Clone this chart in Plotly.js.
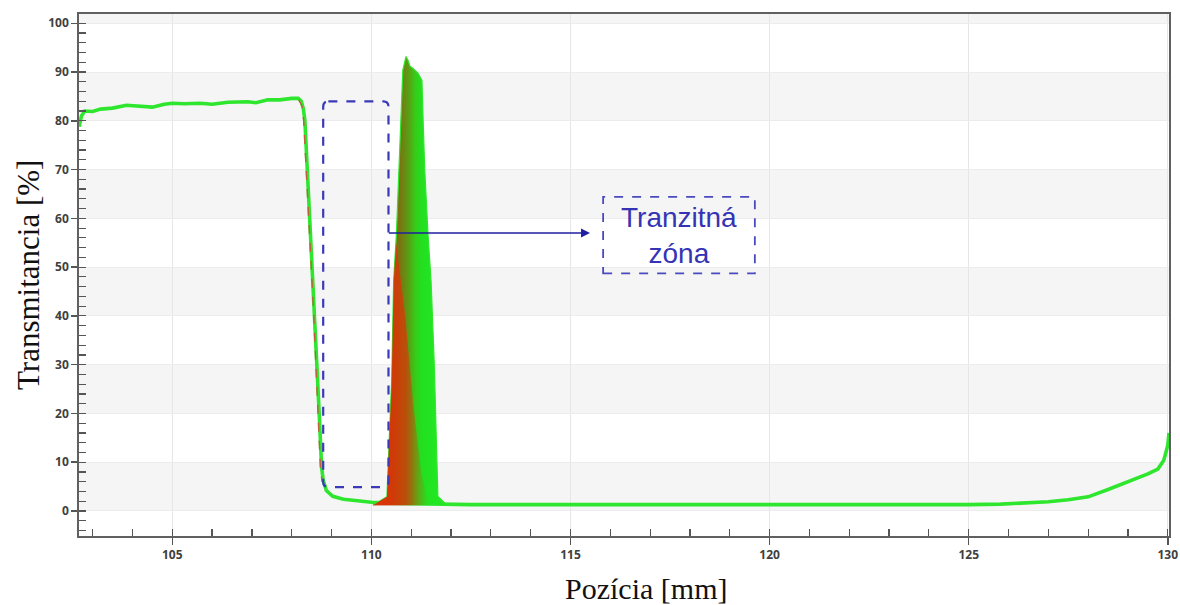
<!DOCTYPE html>
<html>
<head>
<meta charset="utf-8">
<script src="https://cdn.plot.ly/plotly-3.0.1.min.js"></script>
<style>html,body{margin:0;padding:0;background:#fff;}#chart{width:1180px;height:605px;}</style>
</head>
<body>
<div id="chart"></div>
<script>
// Main transmittance curve (position mm, transmittance %)
const mainX = [102.66, 102.72, 102.8, 103.0, 103.2, 103.5, 103.85, 104.2, 104.5, 104.8, 105.0, 105.3, 105.7, 106.0, 106.4, 106.9, 107.1, 107.4, 107.7, 108.0, 108.16, 108.24, 108.29, 108.33, 108.45, 108.58, 108.69, 108.75, 108.79, 108.87, 109.03, 109.3, 109.6, 110.0, 110.5, 111.0, 111.5, 112.0, 112.5, 113, 114, 115, 116, 117, 118, 119, 120, 121, 122, 123, 124, 125, 125.8, 126.6, 127.0, 127.5, 128.0, 128.5, 129.0, 129.5, 129.75, 129.9, 130.0, 130.03];
const mainY = [78.8, 81.0, 82.0, 81.9, 82.4, 82.6, 83.2, 83.0, 82.8, 83.4, 83.6, 83.5, 83.6, 83.4, 83.8, 83.9, 83.7, 84.3, 84.3, 84.6, 84.6, 84.0, 82.5, 80.1, 61.0, 40.6, 20.0, 9.0, 6.3, 4.2, 3.0, 2.4, 2.1, 1.8, 1.6, 1.5, 1.5, 1.4, 1.3, 1.3, 1.3, 1.3, 1.3, 1.3, 1.3, 1.2, 1.2, 1.2, 1.2, 1.2, 1.3, 1.3, 1.4, 1.7, 1.9, 2.3, 2.9, 4.4, 6.0, 7.6, 8.6, 10.4, 13.5, 16.0];

// Red dashed measurement at the falling edge
const dropX = [108.18, 108.26, 108.3, 108.42, 108.55, 108.66, 108.72, 108.76];
const dropY = [84.3, 83.0, 80.0, 61.0, 40.6, 20.0, 9.0, 6.0];

// Envelope of the transition-zone peak (all overlaid measurements)
const peakX = [110.04, 110.39, 110.51, 110.56, 110.63, 110.76, 110.79, 110.87, 110.92, 110.97, 111.04, 111.17, 111.27, 111.30, 111.34, 111.42, 111.50, 111.58, 111.63, 111.67, 111.90];
const peakY = [1.2, 2.9, 26.8, 47.3, 57.0, 87.7, 90.4, 93.2, 92.4, 91.2, 90.8, 89.8, 88.3, 80.0, 70.0, 57.0, 47.0, 30.0, 15.0, 3.0, 1.2];

// Reddish lower region of the peak (early measurements)
const redX = [110.04, 110.39, 110.51, 110.56, 110.62, 110.85, 111.05, 111.25, 111.45];
const redY = [1.2, 2.9, 26.8, 47.3, 55.0, 40.0, 22.0, 8.0, 1.2];

const xTickVals = [105, 110, 115, 120, 125, 130];
const yTickVals = [0, 10, 20, 30, 40, 50, 60, 70, 80, 90, 100];

const labelText = 'Tranzitná<br>zóna';
const xTitle = 'Pozícia [mm]';
const yTitle = 'Transmitancia [%]';

const traces = [
  {x: mainX, y: mainY, type: 'scatter', mode: 'lines', line: {color: '#2ee62e', width: 3.6}, hoverinfo: 'skip'},
  {x: dropX, y: dropY, type: 'scatter', mode: 'lines', line: {color: '#c0603a', width: 1.4, dash: 'dash'}, hoverinfo: 'skip'},
  {x: peakX, y: peakY, type: 'scatter', mode: 'lines', fill: 'toself', line: {color: '#2ee62e', width: 1.2},
   fillgradient: {type: 'horizontal', start: 110.5, stop: 111.6,
     colorscale: [[0, '#8a6010'], [0.2, '#7a7410'], [0.4, '#58a014'], [0.55, '#36cc18'], [0.7, '#22e020'], [1, '#22e622']]}, hoverinfo: 'skip'},
  {x: redX, y: redY, type: 'scatter', mode: 'lines', fill: 'toself', line: {width: 0, color: 'rgba(0,0,0,0)'},
   fillgradient: {type: 'horizontal', start: 110.4, stop: 111.45,
     colorscale: [[0, 'rgba(220,50,6,0.95)'], [0.45, 'rgba(205,65,8,0.8)'], [1, 'rgba(160,110,16,0)']]}, hoverinfo: 'skip'}
];

// alternating light bands
const shapes = [];
for (let i = 0; i < yTickVals.length; i += 2) {
  shapes.push({type: 'rect', xref: 'paper', yref: 'y', x0: 0, x1: 1, y0: yTickVals[i], y1: yTickVals[i] + 10,
    fillcolor: '#f5f5f5', line: {width: 0}, layer: 'below'});
}
// rounded dashed box around transition zone
const bx1 = 108.79, bx2 = 110.43, by1 = 4.9, by2 = 84.0, rx = 0.13, ry = 1.1;
shapes.push({type: 'path', xref: 'x', yref: 'y', layer: 'above',
  path: `M ${bx1+rx},${by2} L ${bx2-rx},${by2} Q ${bx2},${by2} ${bx2},${by2-ry} L ${bx2},${by1+ry} Q ${bx2},${by1} ${bx2-rx},${by1} L ${bx1+rx},${by1} Q ${bx1},${by1} ${bx1},${by1+ry} L ${bx1},${by2-ry} Q ${bx1},${by2} ${bx1+rx},${by2} Z`,
  line: {color: '#3a3ab8', width: 2.2, dash: 'dash'}});
// dashed label box
shapes.push({type: 'rect', xref: 'x', yref: 'y', x0: 115.82, x1: 119.63, y0: 48.7, y1: 64.4, layer: 'above',
  line: {color: '#4a4ac0', width: 1.8, dash: 'dash'}, fillcolor: 'rgba(255,255,255,0)'});

const tickFont = {family: 'Open Sans, DejaVu Sans, sans-serif', size: 12, color: '#404040', weight: 700};

const layout = {
  width: 1180, height: 605,
  margin: {l: 79, r: 10.5, t: 14, b: 69},
  paper_bgcolor: '#ffffff', plot_bgcolor: '#ffffff',
  showlegend: false,
  xaxis: {range: [102.658, 130.03], tickvals: xTickVals, ticks: 'outside', ticklen: 7, tickcolor: '#555', tickwidth: 1.5,
    showline: true, mirror: true, linecolor: '#606060', linewidth: 1.8, showgrid: true, gridcolor: '#e6e6e6', zeroline: false,
    tickfont: tickFont,
    minor: {dtick: 1, ticks: 'inside', ticklen: 7, tickcolor: '#555', tickwidth: 1.2, showgrid: false}},
  yaxis: {range: [-5.13, 101.9], tickvals: yTickVals, ticks: 'outside', ticklen: 6, tickcolor: '#555', tickwidth: 1.5,
    showline: true, mirror: true, linecolor: '#606060', linewidth: 1.8, showgrid: true, gridcolor: '#ececec', zeroline: false,
    tickfont: tickFont,
    minor: {dtick: 2, ticks: 'inside', ticklen: 7, tickcolor: '#555', tickwidth: 1.2, showgrid: false}},
  shapes: shapes,
  annotations: [
    {x: 115.49, y: 57.0, ax: 110.40, ay: 57.0, xref: 'x', yref: 'y', axref: 'x', ayref: 'y', text: '',
     showarrow: true, arrowhead: 2, arrowsize: 1.2, arrowwidth: 1.5, arrowcolor: '#2020a0'},
    {x: 117.72, y: 56.55, xref: 'x', yref: 'y', text: labelText, showarrow: false,
     font: {family: 'Liberation Sans, Arial, sans-serif', size: 28, color: '#3434b4'}, align: 'center'},
    {x: 0, y: 0.5, xref: 'paper', yref: 'paper', xanchor: 'center', yanchor: 'middle', xshift: -51, text: yTitle, textangle: -90, showarrow: false,
     font: {family: 'Liberation Serif, Times New Roman, serif', size: 31, color: '#111'}},
    {x: 0.52, y: 0, xref: 'paper', yref: 'paper', xanchor: 'center', yanchor: 'middle', yshift: -52, text: xTitle, showarrow: false,
     font: {family: 'Liberation Serif, Times New Roman, serif', size: 30, color: '#111'}}
  ]
};

Plotly.newPlot('chart', traces, layout, {displayModeBar: false, staticPlot: true});
</script>
</body>
</html>
